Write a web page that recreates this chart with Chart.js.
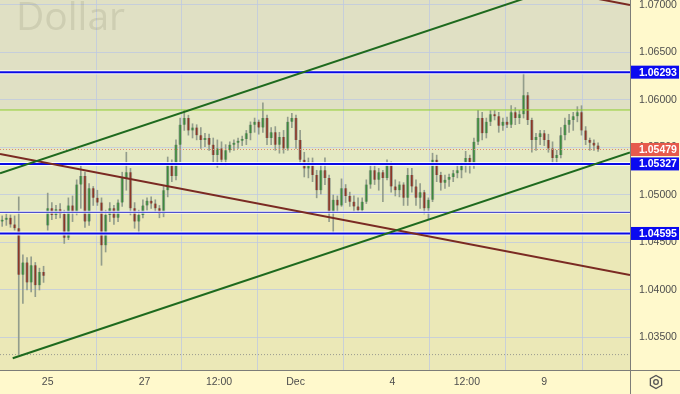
<!DOCTYPE html>
<html><head><meta charset="utf-8">
<script src="https://cdn.jsdelivr.net/npm/chart.js@4.4.0/dist/chart.umd.min.js"></script>
<style>html,body{margin:0;padding:0;background:#fff9cc;}#wrap{width:680px;height:394px;position:relative;}</style>
</head><body><div id="wrap"><canvas id="c"></canvas></div>
<script>
// 2-hour candles (index 0 = first visible bar)
const opens=[1.0472,1.0474,1.0476,1.0469,1.0465,1.0416,1.0429,1.0408,1.0426,1.0405,
1.0419,1.0468,1.0486,1.0479,1.0485,1.0480,1.0455,1.0489,1.0482,1.0511,
1.0520,1.0472,1.0507,1.0497,1.0492,1.0447,1.0479,1.0486,1.0476,1.0492,
1.0518,1.0524,1.0486,1.0472,1.0479,1.0489,1.0494,1.0491,1.0486,1.0480,
1.0505,1.0532,1.0520,1.0553,1.0574,1.0581,1.0568,1.0571,1.0563,1.0558,
1.0560,1.0553,1.0542,1.0549,1.0537,1.0547,1.0553,1.0555,1.0557,1.0559,
1.0565,1.0574,1.0577,1.0571,1.0581,1.0560,1.0566,1.0553,1.0561,1.0549,
1.0577,1.0581,1.0558,1.0537,1.0528,1.0535,1.0521,1.0505,1.0526,1.0518,
1.0482,1.0495,1.0489,1.0507,1.0499,1.0493,1.0488,1.0484,1.0493,1.0511,
1.0526,1.0516,1.0524,1.0518,1.0532,1.0509,1.0505,1.0511,1.0497,1.0521,
1.0509,1.0497,1.0503,1.0486,1.0495,1.0537,1.0521,1.0513,1.0516,1.0519,
1.0523,1.0526,1.0531,1.0539,1.0532,1.0556,1.0581,1.0565,1.0577,1.0585,
1.0583,1.0573,1.0577,1.0574,1.0587,1.0581,1.0585,1.0605,1.0579,1.0558,
1.0561,1.0565,1.0558,1.0549,1.0539,1.0542,1.0563,1.0574,1.0579,1.0583,
1.0587,1.0568,1.0558,1.0555,1.0552];
const highs=[1.0478,1.0480,1.0479,1.0478,1.0498,1.0437,1.0434,1.0435,1.0429,1.0423,
1.0425,1.0502,1.0492,1.0489,1.0491,1.0484,1.0497,1.0499,1.0516,1.0531,
1.0524,1.0512,1.0509,1.0505,1.0497,1.0484,1.0492,1.0489,1.0495,1.0524,
1.0545,1.0528,1.0492,1.0484,1.0495,1.0497,1.0498,1.0495,1.0489,1.0509,
1.0540,1.0537,1.0558,1.0581,1.0589,1.0584,1.0575,1.0574,1.0571,1.0565,
1.0564,1.0560,1.0558,1.0556,1.0553,1.0556,1.0558,1.0560,1.0562,1.0568,
1.0577,1.0581,1.0579,1.0597,1.0584,1.0571,1.0572,1.0566,1.0568,1.0582,
1.0586,1.0584,1.0568,1.0545,1.0539,1.0539,1.0526,1.0532,1.0539,1.0521,
1.0500,1.0499,1.0517,1.0511,1.0503,1.0499,1.0497,1.0497,1.0516,1.0531,
1.0531,1.0528,1.0526,1.0537,1.0535,1.0516,1.0514,1.0513,1.0528,1.0528,
1.0516,1.0512,1.0505,1.0497,1.0544,1.0542,1.0524,1.0521,1.0522,1.0526,
1.0531,1.0534,1.0546,1.0542,1.0560,1.0589,1.0587,1.0581,1.0589,1.0589,
1.0587,1.0581,1.0582,1.0594,1.0592,1.0589,1.0629,1.0608,1.0581,1.0565,
1.0568,1.0568,1.0564,1.0556,1.0547,1.0571,1.0581,1.0585,1.0587,1.0593,
1.0594,1.0572,1.0560,1.0558,1.0555];
const lows=[1.0467,1.0468,1.0466,1.0463,1.0332,1.0386,1.0400,1.0398,1.0393,1.0400,
1.0408,1.0463,1.0474,1.0475,1.0476,1.0449,1.0453,1.0472,1.0479,1.0486,
1.0466,1.0468,1.0489,1.0489,1.0426,1.0440,1.0472,1.0469,1.0472,1.0488,
1.0505,1.0479,1.0465,1.0459,1.0476,1.0484,1.0486,1.0482,1.0476,1.0477,
1.0498,1.0514,1.0516,1.0535,1.0568,1.0563,1.0560,1.0558,1.0549,1.0551,
1.0547,1.0535,1.0529,1.0532,1.0531,1.0545,1.0547,1.0549,1.0552,1.0553,
1.0558,1.0566,1.0564,1.0566,1.0553,1.0553,1.0547,1.0544,1.0544,1.0547,
1.0571,1.0549,1.0532,1.0519,1.0518,1.0514,1.0497,1.0501,1.0511,1.0472,
1.0460,1.0482,1.0488,1.0492,1.0488,1.0482,1.0482,1.0482,1.0491,1.0507,
1.0511,1.0505,1.0493,1.0516,1.0503,1.0499,1.0498,1.0489,1.0489,1.0503,
1.0489,1.0486,1.0480,1.0474,1.0493,1.0514,1.0505,1.0507,1.0509,1.0514,
1.0518,1.0518,1.0524,1.0523,1.0528,1.0553,1.0558,1.0560,1.0573,1.0579,
1.0566,1.0568,1.0571,1.0571,1.0574,1.0575,1.0581,1.0574,1.0545,1.0547,
1.0553,1.0552,1.0545,1.0533,1.0534,1.0539,1.0558,1.0566,1.0568,1.0577,
1.0563,1.0553,1.0547,1.0547,1.0546];
const closes=[1.0474,1.0476,1.0469,1.0465,1.0416,1.0429,1.0408,1.0426,1.0405,1.0419,
1.0415,1.0486,1.0479,1.0485,1.0480,1.0455,1.0489,1.0482,1.0511,1.0520,
1.0472,1.0507,1.0497,1.0492,1.0447,1.0479,1.0486,1.0476,1.0492,1.0518,
1.0524,1.0486,1.0472,1.0479,1.0489,1.0494,1.0491,1.0486,1.0480,1.0505,
1.0532,1.0520,1.0553,1.0574,1.0581,1.0568,1.0571,1.0563,1.0558,1.0560,
1.0553,1.0542,1.0549,1.0537,1.0547,1.0553,1.0555,1.0557,1.0559,1.0565,
1.0574,1.0577,1.0571,1.0581,1.0560,1.0566,1.0553,1.0561,1.0549,1.0577,
1.0581,1.0558,1.0537,1.0528,1.0535,1.0521,1.0505,1.0526,1.0518,1.0482,
1.0495,1.0489,1.0507,1.0499,1.0493,1.0488,1.0484,1.0493,1.0511,1.0526,
1.0516,1.0524,1.0518,1.0532,1.0509,1.0505,1.0511,1.0497,1.0521,1.0509,
1.0497,1.0503,1.0486,1.0495,1.0537,1.0521,1.0513,1.0516,1.0519,1.0523,
1.0526,1.0531,1.0539,1.0532,1.0556,1.0581,1.0565,1.0577,1.0585,1.0583,
1.0573,1.0577,1.0574,1.0587,1.0581,1.0585,1.0605,1.0579,1.0558,1.0561,
1.0565,1.0558,1.0549,1.0539,1.0542,1.0563,1.0574,1.0579,1.0583,1.0587,
1.0568,1.0558,1.0555,1.0552,1.05479];

// x-axis ticks (bar index positions) and labels
const tickPos=[11,34.4,52.4,70.9,94.3,112.3,131.0];
const tickLabels=['25','27','12:00','Dec','4','12:00','9'];
// price axis
const yTicks=[1.035,1.040,1.045,1.050,1.055,1.060,1.065,1.070];
const xMin=-0.53, xMax=151.72, yMin=1.031579, yMax=1.070526;
// drawn levels
const blueLevels=[1.06293,1.05327,1.04595];
const zoneTop=1.05895, zoneBottom=1.04818;
const lastPrice=1.05479, lowMark=1.0332;
// trend lines [[x,y],[x,y]]
const upperGreen=[[-0.53,1.05228],[151.72,1.07439]];
const lowerGreen=[[2.54,1.03281],[151.72,1.05447]];
const brownMain=[[-0.53,1.05432],[151.72,1.04158]];
const brownUpper=[[134.8,1.07141],[151.72,1.07000]];

const idx=opens.map((_,i)=>i);
const wickData=idx.map(i=>({x:i,y:[lows[i],highs[i]]}));
const bodyData=idx.map(i=>({x:i,y:[opens[i],closes[i]]}));
const bodyColors=idx.map(i=>closes[i]>=opens[i]?'#3c8a3c':'#8c3626');

function seg(pts,color,width,dash,order){
  return {type:'line',data:pts.map(p=>({x:p[0],y:p[1]})),borderColor:color,borderWidth:width,
    borderDash:dash||[],pointRadius:0,fill:false,order:order,tension:0};
}
function hline(v,color,width,dash,order){return seg([[xMin,v],[xMax,v]],color,width,dash,order);}

const datasets=[
  {type:'bar',data:wickData,backgroundColor:'#939d8c',barThickness:1,grouped:false,order:20},
  {type:'bar',data:bodyData,backgroundColor:bodyColors,borderColor:'rgba(160,166,150,0.95)',
   borderWidth:{left:1,right:1,top:0,bottom:0},borderSkipped:false,barThickness:3,grouped:false,order:19,minBarLength:1},
  hline(lowMark,'#9a9a90',1,[1,2],10),
  hline(lastPrice,'#e0866a',1,[1,2],9),
  hline(zoneTop,'#8fcf2f',1,[],8),
  hline(zoneBottom,'rgba(255,255,255,0.8)',3,[],8),
  hline(zoneBottom,'#5050d0',1.2,[],7),
];
blueLevels.forEach(v=>{datasets.push(hline(v,'rgba(255,255,255,0.85)',4,[],6));datasets.push(hline(v,'#0a0ae6',2,[],5));});
datasets.push(seg(upperGreen,'#1e6a1e',2,[],4));
datasets.push(seg(lowerGreen,'#1e6a1e',2,[],4));
datasets.push(seg(brownMain,'#7a2a22',2,[],4));
datasets.push(seg(brownUpper,'#7a2a22',2,[],4));

const FONT='"Liberation Sans", Arial, sans-serif';
const tickColor='#4d4d4d';
const gridColor='rgba(190,200,225,0.75)';

const deco={
  id:'deco',
  beforeDraw(chart){
    const {ctx,chartArea:a,scales:{y}}=chart;
    ctx.save();
    ctx.fillStyle='#fff9cc';ctx.fillRect(0,0,chart.width,chart.height);
    const yt=y.getPixelForValue(zoneTop), yb=y.getPixelForValue(zoneBottom);
    ctx.fillStyle='#e0e0c4';ctx.fillRect(a.left,a.top,a.right-a.left,yt-a.top);
    ctx.fillStyle='#e5e9c3';ctx.fillRect(a.left,yt,a.right-a.left,yb-yt);
    ctx.fillStyle='#ebe8b7';ctx.fillRect(a.left,yb,a.right-a.left,a.bottom-yb);
    ctx.restore();
  },
  beforeDatasetsDraw(chart){
    const {ctx,chartArea:a}=chart;
    ctx.save();
    ctx.beginPath();ctx.rect(a.left,a.top,a.right-a.left,a.bottom-a.top);ctx.clip();
    ctx.font='39px "Open Sans", sans-serif';
    ctx.fillStyle='rgba(110,110,90,0.16)';
    ctx.textBaseline='alphabetic';
    ctx.fillText('Dollar',16,30);
    ctx.restore();
  },
  afterDraw(chart){
    const {ctx,chartArea:a,scales:{y}}=chart;
    ctx.save();
    ctx.strokeStyle='#7d7d78';ctx.lineWidth=1;
    ctx.beginPath();ctx.moveTo(Math.round(a.right)+0.5,0);ctx.lineTo(Math.round(a.right)+0.5,chart.height);ctx.stroke();
    ctx.beginPath();ctx.moveTo(0,Math.round(a.bottom)+0.5);ctx.lineTo(chart.width,Math.round(a.bottom)+0.5);ctx.stroke();
    const boxes=[[blueLevels[0],'#0a0af0'],[lastPrice,'#e65a4c'],[blueLevels[1],'#0a0af0'],[blueLevels[2],'#0a0af0']];
    ctx.font='bold 10.5px '+FONT;ctx.textBaseline='middle';ctx.textAlign='left';
    boxes.forEach(([v,c])=>{
      const py=y.getPixelForValue(v);
      ctx.fillStyle=c;ctx.fillRect(a.right+1,py-6.5,48,13);
      ctx.fillStyle='#ffffff';ctx.fillText(v.toFixed(5),a.right+9,py+0.5);
    });
    // settings icon
    const cx=656,cy=382,r=6.5;
    ctx.strokeStyle='#555';ctx.lineWidth=1.3;ctx.beginPath();
    for(let k=0;k<6;k++){const ang=Math.PI/6+k*Math.PI/3;const px=cx+r*Math.cos(ang),py=cy+r*Math.sin(ang);k?ctx.lineTo(px,py):ctx.moveTo(px,py);}
    ctx.closePath();ctx.stroke();
    ctx.beginPath();ctx.arc(cx,cy,2.3,0,Math.PI*2);ctx.stroke();
    ctx.restore();
  }
};

new Chart(document.getElementById('c'),{
  type:'bar',
  data:{datasets},
  options:{
    responsive:true,maintainAspectRatio:false,animation:false,devicePixelRatio:1,
    events:[],
    layout:{padding:0,autoPadding:false},
    plugins:{legend:{display:false},tooltip:{enabled:false},title:{display:false}},
    scales:{
      x:{type:'linear',min:xMin,max:xMax,offset:false,position:'bottom',
        grid:{color:gridColor,drawTicks:false,lineWidth:1},border:{display:false},
        afterBuildTicks:s=>{s.ticks=tickPos.map(v=>({value:v}));},
        afterFit:s=>{s.height=24;s.paddingLeft=0;s.paddingRight=0;s.paddingTop=0;s.paddingBottom=0;},
        ticks:{autoSkip:false,maxRotation:0,padding:6,color:tickColor,font:{family:FONT,size:10.5},
          callback:(v,i)=>tickLabels[i]}},
      y:{type:'linear',position:'right',min:yMin,max:yMax,
        grid:{color:gridColor,drawTicks:false,lineWidth:1},border:{display:false},
        afterBuildTicks:s=>{s.ticks=yTicks.map(v=>({value:v}));},
        afterFit:s=>{s.width=50;s.paddingTop=0;s.paddingBottom=0;s.paddingLeft=0;s.paddingRight=0;},
        ticks:{padding:9,color:tickColor,font:{family:FONT,size:10.5},callback:v=>v.toFixed(5)}}
    }
  },
  plugins:[deco]
});
</script></body></html>
